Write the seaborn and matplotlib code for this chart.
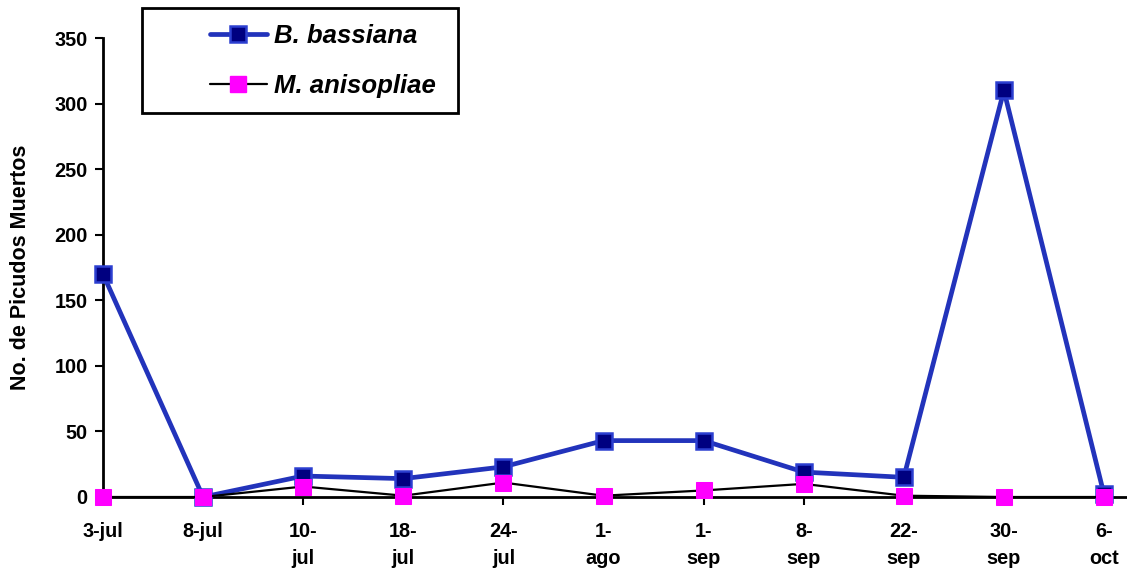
import matplotlib
matplotlib.use("Agg")
import matplotlib.pyplot as plt
import seaborn as sns
import pandas as pd
from matplotlib.lines import Line2D
from matplotlib.patches import Rectangle

sns.set_theme(style="white")
plt.rcParams['font.family'] = ['Liberation Sans', 'DejaVu Sans']
plt.rcParams['text.color'] = 'black'
plt.rcParams['axes.labelcolor'] = 'black'
plt.rcParams['xtick.color'] = 'black'
plt.rcParams['ytick.color'] = 'black'

fechas = ["3-jul", "8-jul", "10-\njul", "18-\njul", "24-\njul", "1-\nago",
          "1-\nsep", "8-\nsep", "22-\nsep", "30-\nsep", "6-\noct"]
bassiana = [170, 0, 16, 14, 23, 43, 43, 19, 15, 310, 2]
anisopliae = [0, 0, 8, 1, 11, 1, 5, 10, 1, 0, 0]

idx = list(range(len(fechas)))
df = pd.DataFrame({"idx": idx, "B": bassiana, "M": anisopliae})

fig = plt.figure(figsize=(11.27, 5.69), dpi=100)
ax = fig.add_axes([103/1127, (569-497)/569, (1127-103)/1127, (497-38)/569])

sns.lineplot(data=df, x="idx", y="M", ax=ax, color="black", lw=1.6,
             marker="s", markersize=11, markerfacecolor="#FF00FF",
             markeredgecolor="#FF00FF", clip_on=False, zorder=4)
sns.lineplot(data=df, x="idx", y="B", ax=ax, color="#2233BB", lw=3.4,
             marker="s", markersize=11, markerfacecolor="#000080",
             markeredgecolor="#2C3FD0", markeredgewidth=1.8, clip_on=False, zorder=3)

ax.set_xlim(0, 10 + 23/100.1)
ax.set_ylim(0, 350)
ax.set_yticks([0, 50, 100, 150, 200, 250, 300, 350])
ax.set_xticks(idx)
ax.set_xticklabels(fechas, fontsize=14.3, fontweight="bold", linespacing=1.5)
for t in ax.get_yticklabels():
    t.set_fontsize(14.3)
    t.set_fontweight("bold")
ax.set_xlabel("")
ax.set_ylabel("No. de Picudos Muertos", fontsize=15.5, fontweight="bold", labelpad=17)

for s in ["top", "right"]:
    ax.spines[s].set_visible(False)
for s in ["left", "bottom"]:
    ax.spines[s].set_color("black")
    ax.spines[s].set_linewidth(2)
ax.tick_params(axis="both", direction="out", length=6, width=1.5, color="black",
               left=True, bottom=True)
ax.tick_params(axis="y", pad=5)
ax.tick_params(axis="x", pad=12)

# legend frame
fig.patches.append(Rectangle((142/1127, 1 - 113/569), (458-142)/1127, (113-8)/569,
                             transform=fig.transFigure, facecolor="white",
                             edgecolor="black", lw=2, zorder=5))

handles = [
    Line2D([], [], color="#2233BB", lw=3.4, marker="s", markersize=11,
           markerfacecolor="#000080", markeredgecolor="#2C3FD0", markeredgewidth=1.8),
    Line2D([], [], color="black", lw=1.6, marker="s", markersize=11,
           markerfacecolor="#FF00FF", markeredgecolor="#FF00FF"),
]
leg = fig.legend(handles, ["B. bassiana", "M. anisopliae"], loc="upper left",
                 bbox_to_anchor=(205/1127, 1 - 19/569), frameon=False,
                 prop={"size": 18.5, "weight": "bold", "style": "italic"},
                 borderpad=0.2, labelspacing=1.0, handlelength=2.2,
                 borderaxespad=0, handletextpad=0.3)
leg.set_zorder(6)

fig.savefig("out.png", dpi=100)
